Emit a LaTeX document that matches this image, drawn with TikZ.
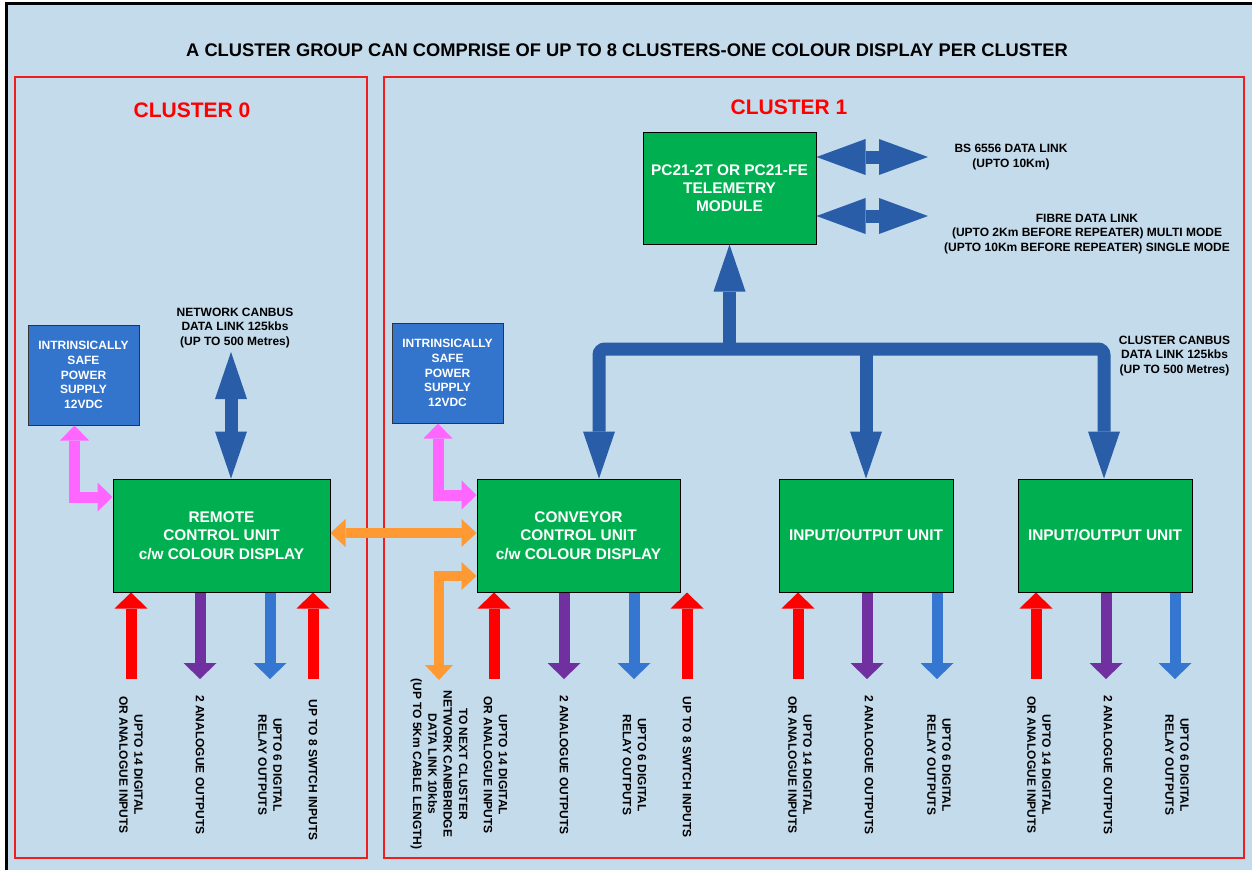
\documentclass[tikz,border=0pt]{standalone}
\usepackage{fontspec}
\setmainfont{Liberation Sans}
\usetikzlibrary{arrows.meta}
\definecolor{bgblue}{RGB}{196,219,235}
\definecolor{boxgreen}{RGB}{0,176,80}
\definecolor{psblue}{RGB}{51,116,205}
\definecolor{busblue}{RGB}{41,93,167}
\definecolor{outblue}{RGB}{53,118,208}
\definecolor{purp}{RGB}{112,48,160}
\definecolor{orng}{RGB}{255,153,51}
\definecolor{pinkc}{RGB}{255,102,255}
\definecolor{framered}{RGB}{240,30,30}
\definecolor{redc}{RGB}{255,0,0}
\tikzset{
  unit/.style={draw=black, line width=1pt, fill=boxgreen, text=white, align=center, inner sep=0pt,
    font=\fontsize{15.4}{18.3}\selectfont\bfseries},
  psu/.style={draw=black!80, line width=1pt, fill=psblue, text=white, align=center, inner sep=0pt,
    minimum width=111pt, minimum height=100pt, font=\fontsize{12}{14.8}\selectfont\bfseries},
  lbl/.style={align=center, inner sep=0pt, font=\fontsize{12}{14.8}\selectfont\bfseries},
  vlbl/.style={lbl, rotate=-90},
  clabel/.style={text=redc, inner sep=0pt, font=\fontsize{21}{24}\selectfont\bfseries},
  clusterbox/.style={draw=framered, line width=1.2pt},
  bus/.style={draw=busblue, line width=13pt, line cap=butt},
  bigend/.style={-{Triangle[width=32pt,length=47pt,line width=0pt]}},
  bigboth/.style={{Triangle[width=32pt,length=47pt,line width=0pt]}-{Triangle[width=32pt,length=47pt,line width=0pt]}},
  sideboth/.style={draw=busblue, line width=13pt, {Triangle[width=36pt,length=49pt,line width=0pt]}-{Triangle[width=36pt,length=49pt,line width=0pt]}},
  smallarr/.style={line width=11pt, -{Triangle[width=33pt,length=16pt,line width=0pt]}},
  redup/.style={smallarr, draw=redc},
  purpdown/.style={smallarr, draw=purp},
  bluedown/.style={smallarr, draw=outblue},
  pinkarr/.style={draw=pinkc, line width=11pt, line join=miter,
    {Triangle[width=29pt,length=15pt,line width=0pt]}-{Triangle[width=29pt,length=15pt,line width=0pt]}},
  orngarr/.style={draw=orng, line width=10pt, line join=miter,
    {Triangle[width=28pt,length=15pt,line width=0pt]}-{Triangle[width=28pt,length=15pt,line width=0pt]}},
}
\begin{document}
\begin{tikzpicture}[x=1pt,y=-1pt]
\useasboundingbox (0,0) rectangle (1252,870);
\fill[white] (0,0) rectangle (1252,870);
\fill[bgblue] (6,3) rectangle (1252,870);
\draw[black, line width=3pt] (6.5,870) -- (6.5,3.5) -- (1252,3.5);

% title
\node[lbl, font=\fontsize{18.3}{22}\selectfont\bfseries] (title) at (627,50)
  {A CLUSTER GROUP CAN COMPRISE OF UP TO 8 CLUSTERS-ONE COLOUR DISPLAY PER CLUSTER};

% cluster frames
\draw[clusterbox] (15,77) rectangle (367,858);
\draw[clusterbox] (384,77) rectangle (1244,858);
\node[clabel] (c0) at (192,110) {CLUSTER 0};
\node[clabel] (c1) at (789,107) {CLUSTER 1};

% units
\node[unit, minimum width=217pt, minimum height=113pt] (rcu) at (221.5,535.5)
  {REMOTE\\CONTROL UNIT\\c/w COLOUR DISPLAY};
\node[unit, minimum width=203pt, minimum height=113pt] (cv) at (578.5,535.5)
  {CONVEYOR\\CONTROL UNIT\\c/w COLOUR DISPLAY};
\node[unit, minimum width=174pt, minimum height=113pt] (io1) at (866,535.5) {INPUT/OUTPUT UNIT};
\node[unit, minimum width=174pt, minimum height=113pt] (io2) at (1105,535.5) {INPUT/OUTPUT UNIT};
\node[unit, minimum width=173pt, minimum height=112pt] (tel) at (729.5,188)
  {PC21-2T OR PC21-FE\\TELEMETRY\\MODULE};

% power supplies
\node[psu] (ps0) at (83.5,375) {INTRINSICALLY\\SAFE\\POWER\\SUPPLY\\12VDC};
\node[psu] (ps1) at (447.5,373) {INTRINSICALLY\\SAFE\\POWER\\SUPPLY\\12VDC};

% side labels
\node[lbl] (ncl) at (235,328) {NETWORK CANBUS\\DATA LINK 125kbs\\(UP TO 500 Metres)};
\node[lbl] (bsl) at (1011,157) {BS 6556 DATA LINK\\(UPTO 10Km)};
\node[lbl] (fil) at (1087,234) {FIBRE DATA LINK\\(UPTO 2Km BEFORE REPEATER) MULTI MODE\\(UPTO 10Km BEFORE REPEATER) SINGLE MODE};
\node[lbl] (ccl) at (1174.5,356) {CLUSTER CANBUS\\DATA LINK 125kbs\\(UP TO 500 Metres)};

% cluster canbus
\coordinate (busL) at (599,349);
\coordinate (busR) at (1104,349);
\coordinate (busT) at (729.5,349);
\coordinate (busM) at (866,349);
\draw[bus, bigboth, rounded corners=6pt] (cv.north -| busL) -- (busL) -- (busR) -- (io2.north -| busR);
\draw[bus, bigend] (busT) -- (tel.south);
\draw[bus, bigend] (busM) -- (io1.north);

% network canbus
\coordinate (nc) at (231,352);
\draw[bus, bigboth] (nc) -- (rcu.north -| nc);

% telemetry links
\coordinate (bs) at (928,157);
\coordinate (fi) at (928,216);
\draw[sideboth] (tel.east |- bs) -- (bs);
\draw[sideboth] (tel.east |- fi) -- (fi);

% pink power links
\coordinate (pk0) at (74.5,497);
\coordinate (pk1) at (438,495);
\draw[pinkarr] (ps0.south -| pk0) -- (pk0) -- (rcu.west |- pk0);
\draw[pinkarr] (ps1.south -| pk1) -- (pk1) -- (cv.west |- pk1);

% orange links
\coordinate (og) at (0,533);
\draw[orngarr] (rcu.east |- og) -- (cv.west |- og);
\coordinate (ob) at (439,680);
\coordinate (oc) at (439,576);
\draw[orngarr] (ob) -- (oc) -- (cv.west |- oc);

% bottom arrows: remote
\coordinate (r1) at (131,679);
\coordinate (r2) at (200,679);
\coordinate (r3) at (270,679);
\coordinate (r4) at (313,679);
\draw[redup] (r1) -- (rcu.south -| r1);
\draw[purpdown] (rcu.south -| r2) -- (r2);
\draw[bluedown] (rcu.south -| r3) -- (r3);
\draw[redup] (r4) -- (rcu.south -| r4);
% conveyor
\coordinate (k1) at (494,679);
\coordinate (k2) at (564,679);
\coordinate (k3) at (634,679);
\coordinate (k4) at (687,679);
\draw[redup] (k1) -- (cv.south -| k1);
\draw[purpdown] (cv.south -| k2) -- (k2);
\draw[bluedown] (cv.south -| k3) -- (k3);
\draw[redup] (k4) -- (cv.south -| k4);
% io1
\coordinate (i1) at (798,679);
\coordinate (i2) at (867,679);
\coordinate (i3) at (937,679);
\draw[redup] (i1) -- (io1.south -| i1);
\draw[purpdown] (io1.south -| i2) -- (i2);
\draw[bluedown] (io1.south -| i3) -- (i3);
% io2
\coordinate (j1) at (1036,679);
\coordinate (j2) at (1106,679);
\coordinate (j3) at (1175,679);
\draw[redup] (j1) -- (io2.south -| j1);
\draw[purpdown] (io2.south -| j2) -- (j2);
\draw[bluedown] (io2.south -| j3) -- (j3);

% bottom labels
\node[vlbl] (lr1) at (131,765) {UPTO 14 DIGITAL\\OR ANALOGUE INPUTS};
\node[vlbl] (lr2) at (200,765) {2 ANALOGUE OUTPUTS};
\node[vlbl] (lr3) at (270,765) {UPTO 6 DIGITAL\\RELAY OUTPUTS};
\node[vlbl] (lr4) at (313,770) {UP TO 8 SWTCH INPUTS};

\node[vlbl, font=\fontsize{12}{15.3}\selectfont\bfseries] (lk0) at (439,764)
  {TO NEXT CLUSTER\\NETWORK CANBBRIDGE\\DATA LINK 10kbs\\(UP TO 5Km CABLE LENGTH)};
\node[vlbl] (lk1) at (495.5,765) {UPTO 14 DIGITAL\\OR ANALOGUE INPUTS};
\node[vlbl] (lk2) at (564,765) {2 ANALOGUE OUTPUTS};
\node[vlbl] (lk3) at (634.5,765) {UPTO 6 DIGITAL\\RELAY OUTPUTS};
\node[vlbl] (lk4) at (687,767) {UP TO 8 SWTCH INPUTS};

\node[vlbl] (li1) at (800,765) {UPTO 14 DIGITAL\\OR ANALOGUE INPUTS};
\node[vlbl] (li2) at (869,765) {2 ANALOGUE OUTPUTS};
\node[vlbl] (li3) at (939,765) {UPTO 6 DIGITAL\\RELAY OUTPUTS};

\node[vlbl] (lj1) at (1039,765) {UPTO 14 DIGITAL\\OR ANALOGUE INPUTS};
\node[vlbl] (lj2) at (1108,765) {2 ANALOGUE OUTPUTS};
\node[vlbl] (lj3) at (1177,765) {UPTO 6 DIGITAL\\RELAY OUTPUTS};
\end{tikzpicture}
\end{document}
